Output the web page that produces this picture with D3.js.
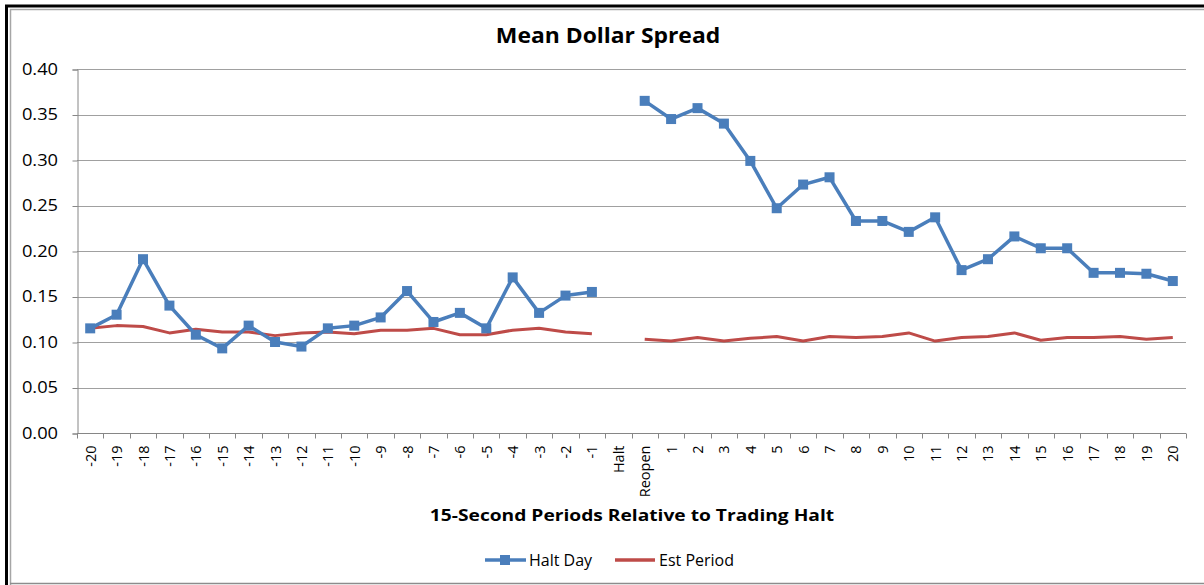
<!DOCTYPE html>
<html>
<head>
<meta charset="utf-8">
<script src="https://cdn.jsdelivr.net/npm/d3@7"></script>
<style>
  body { margin: 0; background: #fff; }
  svg { display: block; font-family: "Open Sans", Lato, sans-serif; }
</style>
</head>
<body>
<script>
// categories along x: -20..-1, Halt, Reopen, 1..20
var categories = ["-20","-19","-18","-17","-16","-15","-14","-13","-12","-11","-10",
  "-9","-8","-7","-6","-5","-4","-3","-2","-1","Halt","Reopen",
  "1","2","3","4","5","6","7","8","9","10","11","12","13","14","15","16","17","18","19","20"];

var haltDay = [0.115,0.130,0.191,0.140,0.108,0.093,0.118,0.100,0.095,0.115,0.118,
  0.127,0.156,0.122,0.132,0.115,0.171,0.132,0.151,0.155,null,0.365,
  0.345,0.357,0.340,0.299,0.247,0.273,0.281,0.233,0.233,0.221,0.237,0.179,0.191,0.216,0.203,0.203,0.176,0.176,0.175,0.167];

var estPeriod = [0.115,0.118,0.117,0.110,0.114,0.111,0.111,0.107,0.110,0.111,0.109,
  0.113,0.113,0.115,0.108,0.108,0.113,0.115,0.111,0.109,null,0.103,
  0.101,0.105,0.101,0.104,0.106,0.101,0.106,0.105,0.106,0.110,0.101,0.105,0.106,0.110,0.102,0.105,0.105,0.106,0.103,0.105];

var yTicks = [0, 0.05, 0.10, 0.15, 0.20, 0.25, 0.30, 0.35, 0.40];

var W = 1204, H = 585;
var plotL = 77, plotR = 1186, plotT = 69, plotB = 433;
var BLUE = "#4a7ebb", RED = "#be4b48";

var svg = d3.select("body").append("svg").attr("width", W).attr("height", H);

// frame
svg.append("line").attr("x1", 5).attr("x2", W).attr("y1", 6).attr("y2", 6)
  .attr("stroke", "#000").attr("stroke-width", 3);
svg.append("line").attr("x1", 6.5).attr("x2", 6.5).attr("y1", 5).attr("y2", H)
  .attr("stroke", "#000").attr("stroke-width", 3);
svg.append("line").attr("x1", 10).attr("x2", W).attr("y1", 9.5).attr("y2", 9.5)
  .attr("stroke", "#a6a6a6").attr("stroke-width", 1.5);
svg.append("line").attr("x1", 10.5).attr("x2", 10.5).attr("y1", 9).attr("y2", H)
  .attr("stroke", "#a6a6a6").attr("stroke-width", 1.5);
svg.append("line").attr("x1", 10).attr("x2", W).attr("y1", 583.5).attr("y2", 583.5)
  .attr("stroke", "#8c8c8c").attr("stroke-width", 1.5);

var x = d3.scaleBand().domain(categories).range([plotL, plotR]);
var y = d3.scaleLinear().domain([0, 0.4]).range([plotB, plotT]);

// gridlines
svg.append("g").selectAll("line").data(yTicks.slice(1)).enter().append("line")
  .attr("x1", plotL).attr("x2", plotR)
  .attr("y1", function(d) { return Math.round(y(d)) + 0.5; })
  .attr("y2", function(d) { return Math.round(y(d)) + 0.5; })
  .attr("stroke", "#a0a0a0").attr("stroke-width", 1);

// y axis (the source picture is a bit stretched sideways, so labels get scaleX)
var yAxis = svg.append("g").attr("transform", "translate(" + (plotL + 0.5) + ",0.5)")
  .call(d3.axisLeft(y).tickValues(yTicks).tickFormat(d3.format(".2f")).tickSize(5).tickPadding(11.5));
yAxis.select(".domain").attr("stroke", "#868686");
yAxis.selectAll(".tick line").attr("stroke", "#868686");
yAxis.selectAll("text").attr("font-size", 15.5).attr("fill", "#000")
  .attr("font-family", "'Open Sans', Lato, sans-serif")
  .attr("transform", "scale(1.18,1)");

// x axis: ticks between categories
var xAxisG = svg.append("g").attr("transform", "translate(0," + (plotB + 0.5) + ")");
xAxisG.append("line").attr("x1", plotL).attr("x2", plotR).attr("stroke", "#868686");
var edges = categories.map(function(c) { return x(c); }).concat([plotR]);
xAxisG.selectAll(".tk").data(edges).enter().append("line")
  .attr("x1", function(d) { return Math.round(d) + 0.5; })
  .attr("x2", function(d) { return Math.round(d) + 0.5; })
  .attr("y1", 0).attr("y2", 5).attr("stroke", "#868686");
xAxisG.selectAll(".lbl").data(categories).enter().append("text")
  .attr("transform", function(d) {
    return "translate(" + (x(d) + x.bandwidth() / 2 + 5.5) + ",12) rotate(-90)";
  })
  .attr("text-anchor", "end")
  .attr("font-size", 14.5)
  .attr("fill", "#000")
  .text(function(d) { return d; });

// title and axis label
svg.append("text").attr("transform", "translate(608,43) scale(1.09,1)").attr("text-anchor", "middle")
  .attr("font-size", 21).attr("font-weight", "bold").text("Mean Dollar Spread");
svg.append("text").attr("transform", "translate(632,521) scale(1.2,1)").attr("text-anchor", "middle")
  .attr("font-size", 16).attr("font-weight", "bold").text("15-Second Periods Relative to Trading Halt");

// series
var line = d3.line()
  .defined(function(d) { return d != null; })
  .x(function(d, i) { return x(categories[i]) + x.bandwidth() / 2; })
  .y(function(d) { return y(d); });

svg.append("path").datum(estPeriod).attr("d", line)
  .attr("fill", "none").attr("stroke", RED).attr("stroke-width", 3).attr("stroke-linejoin", "round");
svg.append("path").datum(haltDay).attr("d", line)
  .attr("fill", "none").attr("stroke", BLUE).attr("stroke-width", 3.5).attr("stroke-linejoin", "round");

var pts = haltDay.map(function(v, i) { return { c: categories[i], v: v }; })
  .filter(function(d) { return d.v != null; });
svg.append("g").selectAll("rect").data(pts).enter().append("rect")
  .attr("x", function(d) { return x(d.c) + x.bandwidth() / 2 - 5; })
  .attr("y", function(d) { return y(d.v) - 5; })
  .attr("width", 10).attr("height", 10).attr("fill", BLUE);

// legend
var lg = svg.append("g").attr("transform", "translate(0,560)");
lg.append("line").attr("x1", 485).attr("x2", 526).attr("stroke", BLUE).attr("stroke-width", 3.5);
lg.append("rect").attr("x", 500).attr("y", -5).attr("width", 10).attr("height", 10).attr("fill", BLUE);
lg.append("text").attr("x", 529).attr("y", 6).attr("font-size", 16).text("Halt Day");
lg.append("line").attr("x1", 615).attr("x2", 655).attr("stroke", RED).attr("stroke-width", 3.5);
lg.append("text").attr("x", 659).attr("y", 6).attr("font-size", 16).text("Est Period");
</script>
</body>
</html>
